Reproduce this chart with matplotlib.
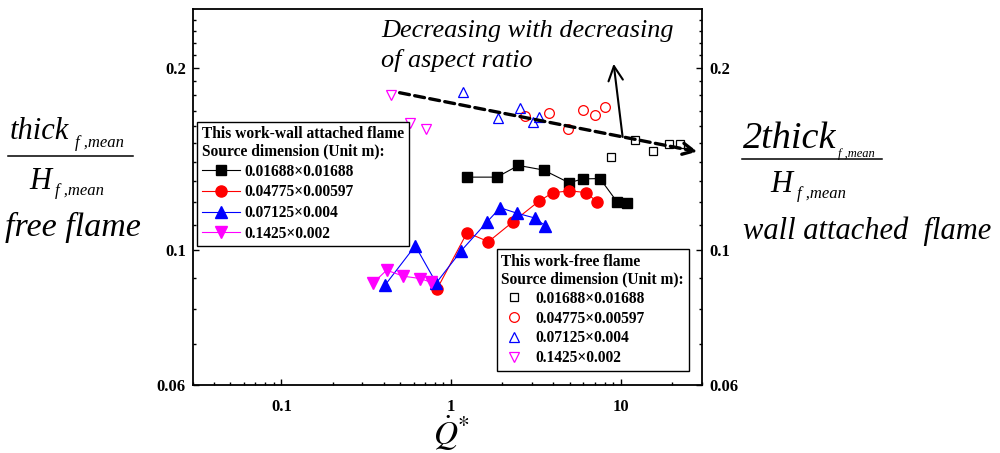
import matplotlib
matplotlib.use('Agg')
import matplotlib.pyplot as plt
from matplotlib.lines import Line2D
from matplotlib.ticker import FixedLocator, NullFormatter

plt.rcParams['font.family'] = ['Liberation Serif', 'DejaVu Serif']
plt.rcParams['mathtext.fontset'] = 'stix'

# ---- wall attached flame (filled markers, connected) ----
wall_sq_x = [1.239, 1.859, 2.489, 3.500, 4.945, 5.944, 7.52, 9.45, 10.85]
wall_sq_y = [0.1320, 0.1320, 0.1380, 0.1356, 0.1292, 0.1311, 0.1313, 0.1203, 0.1197]

wall_ci_x = [0.823, 1.239, 1.657, 2.310, 3.276, 3.960, 4.966, 6.225, 7.186]
wall_ci_y = [0.0862, 0.1069, 0.1033, 0.1114, 0.1204, 0.1244, 0.1253, 0.1245, 0.1203]

wall_tu_x = [0.409, 0.614, 0.816, 1.145, 1.628, 1.942, 2.438, 3.111, 3.587]
wall_tu_y = [0.0877, 0.1017, 0.0883, 0.0998, 0.1114, 0.1175, 0.1151, 0.1130, 0.1097]

wall_td_x = [0.3467, 0.4163, 0.5228, 0.657, 0.763]
wall_td_y = [0.0883, 0.0927, 0.0906, 0.0898, 0.0885]

# ---- free flame (open markers) ----
free_sq_x = [8.71, 12.02, 15.53, 19.11, 22.33]
free_sq_y = [0.1427, 0.1519, 0.1458, 0.1499, 0.1496]

free_ci_x = [2.718, 3.761, 4.852, 5.944, 7.032, 8.08]
free_ci_y = [0.1662, 0.1686, 0.1587, 0.1701, 0.1670, 0.1720]

free_tu_x = [1.166, 1.880, 2.557, 3.020, 3.276]
free_tu_y = [0.1824, 0.1653, 0.1718, 0.1627, 0.1659]

free_td_x = [0.441, 0.574, 0.713]
free_td_y = [0.1804, 0.1624, 0.1583]

source_labels = ['0.01688\u00d70.01688', '0.04775\u00d70.00597',
                 '0.07125\u00d70.004', '0.1425\u00d70.002']
series_colors = ['black', 'red', 'blue', '#ff00ff']
series_markers = ['s', 'o', '^', 'v']

x_ticks = [0.1, 1, 10]
x_ticklabels = ['0.1', '1', '10']
y_ticks = [0.06, 0.1, 0.2]
y_ticklabels = ['0.06', '0.1', '0.2']
y_minor = [0.07, 0.08, 0.09, 0.11, 0.12, 0.13, 0.14, 0.15, 0.16, 0.17,
           0.18, 0.19, 0.21, 0.22, 0.23, 0.24]

W, H = 1000, 453
fig = plt.figure(figsize=(W / 100, H / 100), dpi=100)
ax = fig.add_axes([192.7 / W, 1 - 384.7 / H, (702 - 192.7) / W, (384.7 - 9) / H])
ax.set_xscale('log')
ax.set_yscale('log')
ax.set_xlim(0.03, 30)
ax.set_ylim(0.06, 0.25)

wall_x = [wall_sq_x, wall_ci_x, wall_tu_x, wall_td_x]
wall_y = [wall_sq_y, wall_ci_y, wall_tu_y, wall_td_y]
free_x = [free_sq_x, free_ci_x, free_tu_x, free_td_x]
free_y = [free_sq_y, free_ci_y, free_tu_y, free_td_y]
wall_ms = [7.4, 8.0, 8.0, 8.0]
free_ms = [6.2, 7.0, 7.4, 7.4]

for xs, ys, c, m, ms in zip(wall_x, wall_y, series_colors, series_markers, wall_ms):
    ax.plot(xs, ys, color=c, marker=m, ms=ms, lw=0.8, zorder=3)
for xs, ys, c, m, ms in zip(free_x, free_y, series_colors, series_markers, free_ms):
    ax.plot(xs, ys, ls='none', marker=m, ms=ms, mfc='none', mec=c, mew=0.9, zorder=3)

# trend arrows
ax.annotate('', xy=(28.2, 0.1454), xytext=(0.4966, 0.1819),
            arrowprops=dict(arrowstyle='->', lw=2.4, ls=(0, (3.0, 1.6)), color='black',
                            mutation_scale=20, shrinkA=0, shrinkB=0), zorder=4)
ax.annotate('', xy=(9.05, 0.2030), xytext=(10.22, 0.1538),
            arrowprops=dict(arrowstyle='->', lw=1.5, color='black',
                            mutation_scale=26, shrinkA=0, shrinkB=0), zorder=4)

# axes styling
ax.set_xticks(x_ticks, x_ticklabels, fontweight='bold', fontsize=12)
ax.set_yticks(y_ticks, y_ticklabels, fontweight='bold', fontsize=12)
ax.yaxis.set_minor_locator(FixedLocator(y_minor))
ax.yaxis.set_minor_formatter(NullFormatter())
ax.xaxis.set_minor_formatter(NullFormatter())
ax.tick_params(which='both', direction='in', top=False, right=True, left=True, bottom=True,
               labelright=True, width=1.0)
ax.tick_params(which='major', length=4.5)
ax.tick_params(which='minor', length=2.3)
ax.tick_params(axis='x', which='major', pad=10)
ax.tick_params(axis='y', which='major', pad=5)
for sp in ax.spines.values():
    sp.set_linewidth(1.3)


def px(x, y):
    return x / W, 1 - y / H


# annotation text
fig.text(*px(381, 37.3), 'Decreasing with decreasing', style='italic', size=18.9,
         ha='left', va='baseline')
fig.text(*px(381, 66.7), 'of aspect ratio', style='italic', size=18.9,
         ha='left', va='baseline')

# x label
fig.text(*px(451.7, 445), r'$\dot{Q}^{*}$', size=24, ha='center', va='baseline')

# left y label (free flame)
big = 22
sub = 12
fig.text(*px(10, 139.3), 'thick', style='italic', size=big, va='baseline')
fig.text(*px(75, 146.7), 'f ,mean', style='italic', size=sub, va='baseline')
fig.add_artist(Line2D([8.3 / W, 133.3 / W], [1 - 156 / H, 1 - 156 / H], color='black', lw=1.1))
fig.text(*px(29, 189.3), 'H', style='italic', size=big, va='baseline')
fig.text(*px(55, 195), 'f ,mean', style='italic', size=sub, va='baseline')
fig.text(*px(5, 236), 'free flame', style='italic', size=24.5, va='baseline')

# right y label (wall attached flame)
fig.text(*px(743.3, 148.3), '2thick', style='italic', size=27.5, va='baseline')
fig.text(*px(838, 156.7), 'f ,mean', style='italic', size=9, va='baseline')
fig.add_artist(Line2D([741.7 / W, 881.7 / W], [1 - 159.3 / H, 1 - 159.3 / H], color='black', lw=1.1))
fig.text(*px(770, 191.7), 'H', style='italic', size=big, va='baseline')
fig.text(*px(796.7, 198.3), 'f ,mean', style='italic', size=sub, va='baseline')
fig.text(*px(743.3, 239.3), 'wall attached  flame', style='italic', size=22, va='baseline')

# legends
leg_font = dict(family='Liberation Serif', weight='bold', size=11.2)
wall_handles = [Line2D([], [], color=c, marker=m, ms=ms, lw=0.8)
                for c, m, ms in zip(series_colors, series_markers, wall_ms)]
free_handles = [Line2D([], [], ls='none', marker=m, ms=ms, mfc='none', mec=c, mew=0.9)
                for c, m, ms in zip(series_colors, series_markers, free_ms)]

leg1 = fig.legend(wall_handles, source_labels,
                  title='This work-wall attached flame\nSource dimension (Unit m):',
                  loc='upper left', bbox_to_anchor=px(197.3, 121.7),
                  prop=leg_font, title_fontproperties=leg_font, alignment='left',
                  frameon=True, fancybox=False, edgecolor='black', framealpha=1,
                  borderpad=0.3, handlelength=2.45, handletextpad=0.3, labelspacing=0.3,
                  borderaxespad=0)
leg1.get_frame().set_linewidth(1.0)
leg1.get_title().set_linespacing(1.05)

leg2 = fig.legend(free_handles, source_labels,
                  title='This work-free flame\nSource dimension (Unit m):',
                  loc='upper left', bbox_to_anchor=px(496.7, 249.3),
                  prop=leg_font, title_fontproperties=leg_font, alignment='left',
                  frameon=True, fancybox=False, edgecolor='black', framealpha=1,
                  borderpad=0.3, handlelength=1.65, handletextpad=0.55, labelspacing=0.24,
                  borderaxespad=0)
leg2.get_frame().set_linewidth(1.0)
leg2.get_title().set_linespacing(1.1)

fig.savefig('out.png', dpi=100)
